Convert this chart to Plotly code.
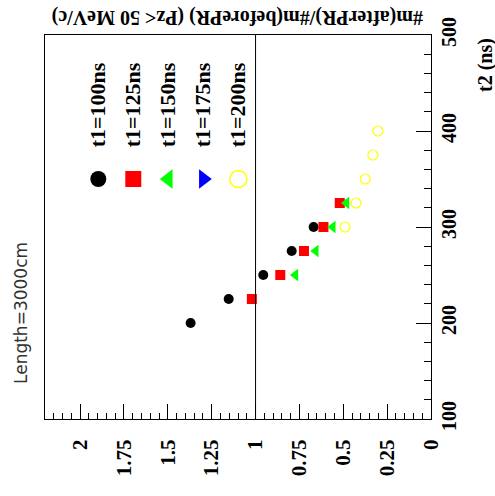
import plotly.graph_objects as go

# ---------------- data ----------------
t1_labels = ["t1=100ns", "t1=125ns", "t1=150ns", "t1=175ns", "t1=200ns"]

t2_100 = [200, 225, 250, 275, 300]
r_100 = [1.370, 1.153, 0.956, 0.794, 0.669]

t2_125 = [225, 250, 275, 300, 325]
r_125 = [1.021, 0.859, 0.724, 0.613, 0.520]

t2_150 = [250, 275, 300, 325]
r_150 = [0.773, 0.657, 0.560, 0.482]

t2_175 = []
r_175 = []

t2_200 = [300, 325, 350, 375, 400]
r_200 = [0.490, 0.427, 0.375, 0.331, 0.303]

ratio_ticks = [0, 0.25, 0.5, 0.75, 1, 1.25, 1.5, 1.75, 2]
t2_ticks = [100, 200, 300, 400, 500]

# ---------------- styling ----------------
W, H = 495, 496
ML, MR, MT, MB = 45, 64, 35, 77
PW, PH = W - ML - MR, H - MT - MB

def px_to_paper(xp, yp):
    return (xp - ML) / PW, (H - MB - yp) / PH

serif_b = dict(family="Liberation Serif, Times New Roman, serif", color="black", weight="bold")

series = [
    (t2_100, r_100, dict(symbol="circle", color="black", size=10)),
    (t2_125, r_125, dict(symbol="square", color="#ff0000", size=10)),
    (t2_150, r_150, dict(symbol="triangle-left", color="#00ff00", size=11)),
    (t2_175, r_175, dict(symbol="triangle-right", color="#0000ff", size=11)),
    (t2_200, r_200, dict(symbol="circle-open", color="#ffff00", size=10,
                         line=dict(width=1.2, color="#ffff00"))),
]

fig = go.Figure()
for t2, r, mk in series:
    fig.add_trace(go.Scatter(x=r, y=t2, mode="markers", marker=mk,
                             showlegend=False, hoverinfo="skip",
                             xaxis="x", yaxis="y"))

# rotated hand-made legend (drawn on an overlay axis in plot-fraction units)
leg_x0, leg_dx = 98.3, 35.0     # pixel centre of first entry, spacing
leg_marker_y, leg_text_y = 179, 105
leg_markers = [
    dict(symbol="circle", color="black", size=16),
    dict(symbol="square", color="#ff0000", size=16),
    dict(symbol="triangle-left", color="#00ff00", size=17),
    dict(symbol="triangle-right", color="#0000ff", size=17),
    dict(symbol="circle-open", color="#ffff00", size=17,
         line=dict(width=1.5, color="#ffff00")),
]
for i, mk in enumerate(leg_markers):
    px, py = px_to_paper(leg_x0 + i * leg_dx, leg_marker_y)
    fig.add_trace(go.Scatter(x=[px], y=[py], mode="markers", marker=mk,
                             showlegend=False, hoverinfo="skip",
                             xaxis="x2", yaxis="y2"))

annotations = []
for i, lab in enumerate(t1_labels):
    px, py = px_to_paper(leg_x0 + i * leg_dx, leg_text_y)
    annotations.append(dict(text=lab, xref="paper", yref="paper", x=px, y=py,
                            textangle=-90, showarrow=False, xanchor="center",
                            yanchor="middle", font=dict(size=22, **serif_b)))

tx, ty = px_to_paper(238, 18)
annotations.append(dict(text="#m(afterPR)/#m(beforePR) (Pz< 50 MeV/c)",
                        xref="paper", yref="paper", x=tx, y=ty, textangle=180,
                        showarrow=False, xanchor="center", yanchor="middle",
                        font=dict(size=20, **serif_b)))
tx, ty = px_to_paper(485, 65)
annotations.append(dict(text="t2 (ns)", xref="paper", yref="paper", x=tx, y=ty,
                        textangle=-90, showarrow=False, xanchor="center",
                        yanchor="middle", font=dict(size=20, **serif_b)))
tx, ty = px_to_paper(21, 313)
annotations.append(dict(text="Length=3000cm", xref="paper", yref="paper",
                        x=tx, y=ty, textangle=-90, showarrow=False,
                        xanchor="center", yanchor="middle",
                        font=dict(size=17, family="DejaVu Sans", color="#333",
                                  weight="normal")))

fig.update_layout(
    width=W, height=H,
    margin=dict(l=ML, r=MR, t=MT, b=MB, pad=0),
    paper_bgcolor="white", plot_bgcolor="white",
    showlegend=False,
    xaxis=dict(range=[2.2, 0], tickvals=ratio_ticks,
               ticktext=[f"{v:g}" for v in ratio_ticks],
               ticks="inside", ticklen=15, tickwidth=1, tickcolor="black",
               minor=dict(dtick=0.05, tick0=0, ticks="inside", ticklen=6,
                          tickcolor="black", tickwidth=1),
               tickangle=-90, tickfont=dict(size=21, **serif_b),
               ticklabelstandoff=11,
               showline=True, mirror=True, linecolor="black", linewidth=1,
               showgrid=False, zeroline=False),
    yaxis=dict(range=[100, 500], side="right", tickvals=t2_ticks,
               ticks="inside", ticklen=15, tickwidth=1, tickcolor="black",
               minor=dict(dtick=20, tick0=0, ticks="inside", ticklen=7,
                          tickcolor="black", tickwidth=1),
               tickangle=-90, tickfont=dict(size=20, **serif_b),
               ticklabelstandoff=0,
               showline=True, mirror=True, linecolor="black", linewidth=1,
               showgrid=False, zeroline=False),
    xaxis2=dict(range=[0, 1], overlaying="x", visible=False),
    yaxis2=dict(range=[0, 1], overlaying="y", visible=False),
    shapes=[dict(type="line", xref="x", yref="paper", x0=1, x1=1, y0=0, y1=1,
                 line=dict(color="black", width=1))],
    annotations=annotations,
)

fig.write_html("out.html")
